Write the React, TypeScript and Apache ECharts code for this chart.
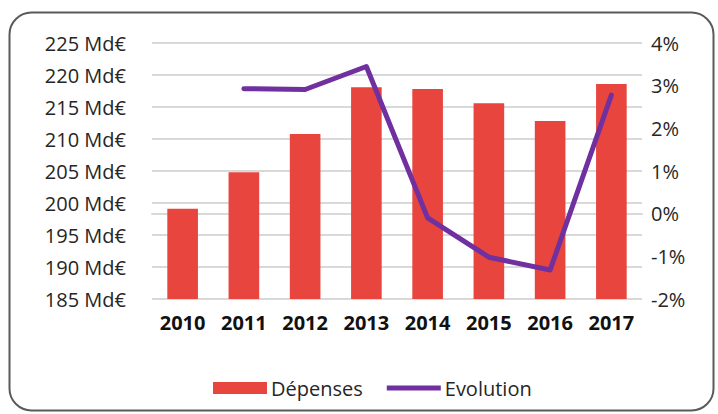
import React, { useEffect, useRef } from "react";
import * as echarts from "echarts";

const years = ["2010", "2011", "2012", "2013", "2014", "2015", "2016", "2017"];
const depenses = [199.1, 204.8, 210.8, 218.1, 217.8, 215.6, 212.8, 218.6];
const evolution: (number | null)[] = [null, 2.93, 2.91, 3.45, -0.1, -1.02, -1.32, 2.78];

const FONT = "'Open Sans', 'Noto Sans', sans-serif";

export default function App() {
  const ref = useRef<HTMLDivElement>(null);
  useEffect(() => {
    document.body.style.margin = "0";
    const chart = echarts.init(ref.current!, null, { renderer: "svg" });
    chart.setOption({
      animation: false,
      backgroundColor: "#ffffff",
      textStyle: { fontFamily: FONT },
      graphic: [
        {
          type: "rect",
          shape: { x: 9.5, y: 12.5, width: 704, height: 398, r: 22 },
          style: { fill: "none", stroke: "#5a5a5a", lineWidth: 2 },
          silent: true,
          z: -1,
        },
      ],
      grid: { left: 152, right: 76, top: 43, bottom: 115, containLabel: false },
      legend: {
        left: 208,
        top: 373,
        itemGap: 24,
        itemWidth: 54,
        itemHeight: 12,
        symbolKeepAspect: true,
        textStyle: { fontSize: 20, color: "#262626", fontFamily: FONT, padding: [0, 0, 0, -1] },
        data: [
          { name: "Dépenses", icon: "rect" },
          { name: "Evolution", icon: "path://M0,0 L54,0 L54,5 L0,5 Z", itemStyle: { color: "#7030A0" } },
        ],
      },
      xAxis: {
        type: "category",
        data: years,
        axisLine: { show: true, lineStyle: { color: "#d9d9d9", width: 2 } },
        axisTick: { show: false },
        axisLabel: {
          fontSize: 20,
          fontWeight: "bold",
          color: "#111111",
          margin: 13,
          fontFamily: FONT,
        },
      },
      yAxis: [
        {
          type: "value",
          min: 185,
          max: 225,
          interval: 5,
          axisLine: { show: false },
          axisTick: { show: false },
          splitLine: { lineStyle: { color: "#d9d9d9", width: 2 } },
          axisLabel: {
            formatter: (v: number) => `${v} Md€`,
            fontSize: 20,
            color: "#262626",
            margin: 26,
            fontFamily: FONT,
          },
        },
        {
          type: "value",
          min: -2,
          max: 4,
          interval: 1,
          axisLine: { show: false },
          axisTick: { show: false },
          splitLine: { show: false },
          axisLabel: {
            formatter: (v: number) => `${v}%`,
            fontSize: 20,
            color: "#262626",
            margin: 9,
            fontFamily: FONT,
          },
        },
      ],
      series: [
        {
          name: "Dépenses",
          type: "bar",
          data: depenses,
          barWidth: "50%",
          itemStyle: { color: "#E8453F" },
          z: 2,
        },
        {
          name: "Evolution",
          type: "line",
          yAxisIndex: 1,
          data: evolution,
          symbol: "none",
          showSymbol: false,
          lineStyle: { color: "#7030A0", width: 5, cap: "round", join: "round" },
          itemStyle: { color: "#7030A0" },
          z: 3,
        },
      ],
    });
    return () => chart.dispose();
  }, []);
  return <div ref={ref} style={{ width: 718, height: 414 }} />;
}
